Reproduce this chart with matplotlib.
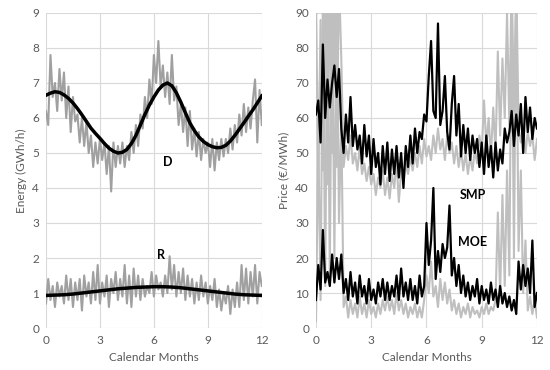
import numpy as np
import matplotlib.pyplot as plt

plt.rcParams['font.family'] = ['Lato', 'DejaVu Sans']

# smooth fits (0.25 month step)
d_fit = [6.65, 6.71, 6.75, 6.73, 6.66, 6.56, 6.43, 6.27, 6.09, 5.90, 5.71, 5.56, 5.42,
         5.27, 5.14, 5.05, 5.00, 5.02, 5.10, 5.27, 5.50, 5.80, 6.10, 6.37, 6.60, 6.80,
         6.94, 7.00, 6.92, 6.72, 6.45, 6.15, 5.86, 5.64, 5.46, 5.33, 5.24, 5.18, 5.15,
         5.16, 5.22, 5.34, 5.50, 5.68, 5.86, 6.05, 6.23, 6.43, 6.63]
r_fit = [0.93, 0.94, 0.95, 0.97, 1.0, 1.03, 1.06, 1.09, 1.12, 1.14, 1.16, 1.17, 1.18,
         1.18, 1.17, 1.15, 1.12, 1.09, 1.06, 1.03, 1.0, 0.97, 0.95, 0.94, 0.93]

# noisy series (0.125 month step)
d_obs = [6.2, 5.8, 7.8, 6.6, 7.0, 6.2, 7.4, 6.5, 7.3, 6.0, 6.9, 5.6, 6.6, 5.9, 6.1, 5.3,
         6.0, 5.2, 5.9, 5.0, 5.5, 4.6, 5.3, 4.7, 5.4, 4.8, 5.3, 4.4, 5.2, 3.9, 5.3, 4.6,
         5.2, 4.7, 5.3, 4.6, 5.2, 4.8, 5.6, 5.0, 5.8, 5.2, 6.1, 5.7, 6.6, 6.0, 7.1, 6.4,
         7.8, 7.0, 8.2, 6.9, 7.5, 6.6, 7.3, 6.4, 7.8, 6.5, 6.9, 5.8, 6.4, 5.6, 6.3, 5.2,
         6.2, 5.1, 5.7, 4.9, 5.6, 4.8, 5.4, 5.0, 5.3, 4.6, 5.4, 4.5, 5.3, 4.8, 5.4, 4.9,
         5.4, 5.0, 5.7, 5.1, 5.8, 5.3, 6.1, 5.5, 6.4, 5.6, 6.3, 5.7, 6.5, 7.1, 5.3, 6.8, 5.8]
r_obs = [0.7, 1.4, 0.8, 1.2, 0.6, 1.3, 0.9, 1.2, 0.7, 1.5, 0.8, 1.4, 0.6, 1.3, 0.8, 1.4,
         0.5, 1.5, 0.9, 1.3, 0.7, 1.6, 0.8, 1.8, 0.7, 1.3, 0.9, 1.5, 0.6, 1.4, 1.0, 1.6,
         0.8, 1.4, 0.9, 1.8, 0.7, 1.5, 0.6, 1.7, 0.9, 1.5, 0.8, 1.4, 0.9, 1.2, 1.0, 1.6,
         0.9, 1.5, 1.1, 1.3, 0.9, 1.5, 1.0, 2.05, 1.1, 1.8, 0.9, 1.6, 1.0, 1.7, 0.8, 1.5,
         0.9, 1.4, 0.7, 1.3, 0.8, 1.5, 0.9, 1.3, 0.7, 1.2, 0.8, 1.4, 0.6, 1.1, 0.5, 1.0,
         0.7, 1.2, 0.4, 1.1, 0.6, 1.3, 0.6, 1.8, 0.8, 1.7, 0.7, 1.6, 0.9, 1.8, 0.7, 1.6, 1.2]

smp = [61, 65, 53, 81, 60, 71, 63, 70, 75, 66, 74, 57, 50, 61, 53, 66,
       52, 58, 51, 55, 47, 58, 49, 55, 44, 54, 46, 50, 41, 52, 44, 53,
       42, 51, 44, 52, 43, 50, 40, 52, 46, 55, 47, 57, 50, 56, 54, 61,
       59, 72, 82, 62, 60, 87, 58, 62, 72, 56, 51, 64, 72, 55, 64, 49,
       58, 50, 57, 48, 55, 50, 54, 46, 53, 44, 55, 46, 52, 43, 53, 45,
       51, 47, 57, 53, 56, 62, 52, 61, 55, 64, 50, 66, 56, 63, 54, 60, 57]
smp_ref = [95, 42, 88, 45, 100, 41, 100, 50, 100, 46, 100, 77, 46, 52, 48, 55,
           47, 50, 45, 52, 44, 47, 42, 46, 41, 44, 38, 43, 40, 45, 38, 43,
           37, 44, 40, 48, 36, 45, 42, 47, 44, 49, 45, 50, 46, 52, 47, 54,
           49, 52, 48, 55, 50, 57, 51, 54, 48, 55, 50, 53, 47, 52, 46, 51,
           45, 50, 44, 49, 45, 51, 47, 55, 50, 65, 52, 60, 49, 63, 50, 79,
           55, 77, 60, 90, 58, 100, 62, 100, 57, 53, 58, 50, 56, 52, 55, 48, 54]
moe = [8, 18, 11, 28, 13, 16, 12, 21, 13, 20, 14, 21, 10, 14, 8, 16,
       9, 13, 7, 15, 9, 12, 7, 14, 8, 11, 7, 13, 9, 14, 8, 13,
       8, 12, 9, 15, 8, 17, 9, 13, 8, 14, 8, 12, 7, 15, 9, 12,
       30, 18, 25, 40, 14, 22, 16, 24, 20, 23, 35, 15, 20, 12, 18, 10,
       15, 9, 13, 8, 12, 9, 14, 7, 12, 8, 11, 7, 13, 8, 11, 6,
       12, 7, 10, 6, 9, 5, 8, 4, 19, 11, 18, 12, 17, 10, 25, 6, 10]
moe_ref = [2, 55, 8, 95, 12, 100, 15, 100, 20, 100, 30, 60, 6, 9, 3, 8,
           4, 7, 3, 9, 4, 7, 3, 8, 4, 6, 3, 7, 4, 8, 5, 9,
           5, 8, 4, 10, 5, 8, 4, 7, 3, 6, 4, 7, 3, 6, 3, 8,
           15, 10, 19, 9, 12, 6, 14, 8, 13, 7, 11, 5, 8, 4, 7, 3,
           6, 4, 7, 3, 6, 4, 5, 3, 6, 4, 7, 4, 6, 5, 8, 33,
           10, 38, 12, 45, 15, 100, 20, 100, 22, 45, 10, 25, 5, 9, 4, 8, 3]

months = [0, 3, 6, 9, 12]

def xs(v):
    return np.linspace(0, 12, len(v))

def style(ax, ymax, ystep, ylabel):
    ax.set_xlim(0, 12)
    ax.set_ylim(0, ymax)
    ax.set_xticks(months)
    ax.set_yticks(np.arange(0, ymax + ystep / 2, ystep))
    ax.grid(color='#d9d9d9', linewidth=0.8)
    ax.set_axisbelow(True)
    for s in ax.spines.values():
        s.set_visible(False)
    ax.tick_params(length=0, labelsize=8.5, colors='#595959', pad=5)
    ax.set_xlabel('Calendar Months', fontsize=8.5, color='#595959')
    ax.set_ylabel(ylabel, fontsize=8.5, color='#595959')

fig = plt.figure(figsize=(5.5, 3.7), dpi=100)
ax1 = fig.add_axes([0.0836, 0.1135, 0.3924, 0.8514])
ax2 = fig.add_axes([0.5745, 0.1135, 0.4018, 0.8514])

ax1.plot(xs(d_obs), d_obs, color='#a0a0a0', lw=1.5)
ax1.plot(xs(r_obs), r_obs, color='#a0a0a0', lw=1.5)
ax1.plot(xs(d_fit), d_fit, color='black', lw=2.5)
ax1.plot(xs(r_fit), r_fit, color='black', lw=2.5)
ax1.text(6.78, 4.75, 'D', fontsize=9, fontweight='bold', ha='center', va='center')
ax1.text(6.39, 2.09, 'R', fontsize=9, fontweight='bold', ha='center', va='center')
style(ax1, 9, 1, 'Energy (GWh/h)')

ax2.plot(xs(smp_ref), smp_ref, color='#bfbfbf', lw=1.5)
ax2.plot(xs(moe_ref), moe_ref, color='#bfbfbf', lw=1.5)
ax2.plot(xs(smp), smp, color='black', lw=1.6)
ax2.plot(xs(moe), moe, color='black', lw=1.6)
ax2.text(8.53, 38, 'SMP', fontsize=9, fontweight='bold', ha='center', va='center')
ax2.text(8.53, 24.6, 'MOE', fontsize=9, fontweight='bold', ha='center', va='center')
style(ax2, 90, 10, 'Price (€/MWh)')

fig.savefig('out.png', dpi=100)
